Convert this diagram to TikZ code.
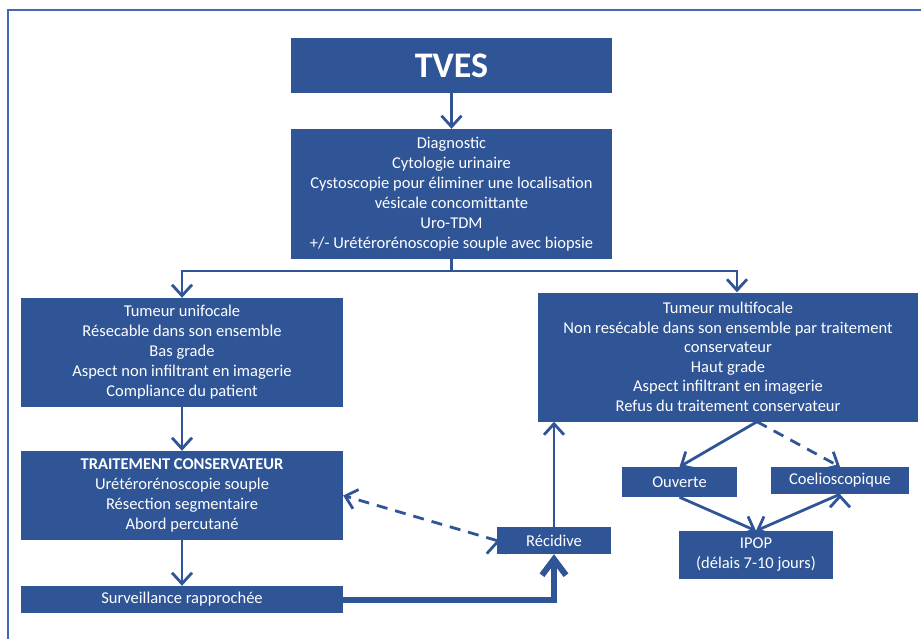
\documentclass[tikz,border=0pt]{standalone}
\usepackage{fontspec}
\setmainfont{Carlito}
\usetikzlibrary{arrows.meta}

\definecolor{bleu}{RGB}{47,85,151}
\definecolor{cadrebleu}{RGB}{68,104,178}

\tikzset{
  boite/.style={fill=bleu,text=white,align=center,inner sep=0pt,
    font=\fontsize{16.5}{20}\selectfont},
  fleche/.style={draw=bleu,line width=2.8pt,-{Straight Barb[length=11pt,width=20pt]}},
  grosse/.style={draw=bleu,line width=6pt,-{Straight Barb[length=16pt,width=24pt]}},
  tirets/.style={dash pattern=on 11pt off 8pt},
}

\begin{document}
\begin{tikzpicture}[x=1pt,y=-1pt]
\useasboundingbox (0,0) rectangle (921,638);
\draw[cadrebleu,line width=1.5pt] (8,10) rectangle (940,660);

% boites
\node[boite,minimum width=321,minimum height=55,font=\fontsize{36}{40}\selectfont\bfseries]
  (tves) at (451.5,65.5) {TVES};
\node[boite,minimum width=321,minimum height=130] (diag) at (451.5,194)
  {Diagnostic\\Cytologie urinaire\\Cystoscopie pour éliminer une localisation\\
   vésicale concomittante\\Uro-TDM\\+/- Urétérorénoscopie souple avec biopsie};
\node[boite,minimum width=322,minimum height=109] (unif) at (182,352.5)
  {Tumeur unifocale\\Résecable dans son ensemble\\Bas grade\\
   Aspect non infiltrant en imagerie\\Compliance du patient};
\node[boite,minimum width=380,minimum height=129,font=\fontsize{16.5}{19.5}\selectfont]
  (multi) at (728,357)
  {Tumeur multifocale\\Non resécable dans son ensemble par traitement\\conservateur\\
   Haut grade\\Aspect infiltrant en imagerie\\Refus du traitement conservateur};
\node[boite,minimum width=322,minimum height=89] (trait) at (182,495.5)
  {\textbf{TRAITEMENT CONSERVATEUR}\\Urétérorénoscopie souple\\
   Résection segmentaire\\Abord percutané};
\node[boite,minimum width=322,minimum height=27] (surv) at (182,599.5)
  {Surveillance rapprochée};
\node[boite,minimum width=114,minimum height=27] (recid) at (554,540.5) {Récidive};
\node[boite,minimum width=115,minimum height=30] (ouverte) at (679.5,482) {Ouverte};
\node[boite,minimum width=138,minimum height=27] (coelio) at (840,480.5) {Coelioscopique};
\node[boite,minimum width=154,minimum height=48] (ipop) at (756,555)
  {IPOP\\(délais 7-10 jours)};

% connecteurs
\coordinate (fourche) at (451.5,271);
\coordinate (sortie) at ([xshift=29]multi.south);
\draw[draw=bleu,line width=2.8pt] (diag) -- (fourche);
\draw[fleche] (fourche) -| (unif.north);
\draw[fleche] (fourche) -| ([xshift=9]multi.north);
\path[fleche]
    (tves) edge (diag)
    (unif) edge (trait)
    (trait) edge (surv)
    (recid) edge (recid |- multi.south)
    (recid.west) edge [tirets] (trait.east);
\path[fleche]
    (sortie) edge (ouverte.north)
             edge [tirets] (coelio.north)
    (ouverte.south) edge (ipop.north)
    (coelio.south) edge (ipop.north);
\draw[grosse] (surv.east) -| (recid.south);
\end{tikzpicture}
\end{document}
